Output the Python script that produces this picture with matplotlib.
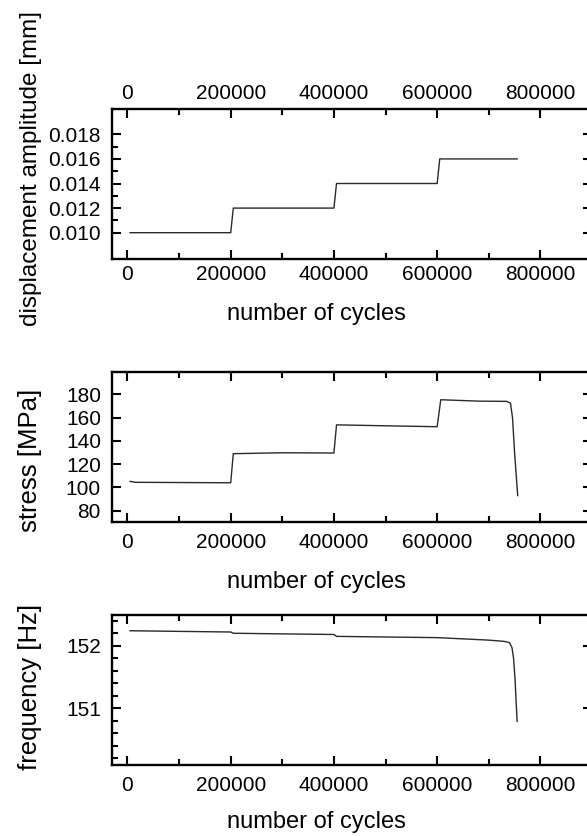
import matplotlib.pyplot as plt
from matplotlib.ticker import MultipleLocator, FixedLocator

plt.rcParams['font.family'] = ['Liberation Sans', 'DejaVu Sans']

# displacement amplitude [mm]
disp_cycles = [5000, 200000, 205000, 400000, 405000, 600000, 605000, 755000]
disp_amp = [0.010, 0.010, 0.012, 0.012, 0.014, 0.014, 0.016, 0.016]

# stress [MPa]
stress_cycles = [5000, 15000, 100000, 200000, 205000, 300000, 400000, 405000,
                 500000, 600000, 607000, 680000, 735000, 742000, 746000, 750000, 756000]
stress_vals = [105.2, 104.4, 104.2, 104.0, 129.0, 129.8, 129.6, 153.8,
               153.0, 152.2, 175.4, 174.2, 174.0, 172.5, 160.0, 130.0, 93.0]

# frequency [Hz]
freq_cycles = [5000, 100000, 200000, 205000, 300000, 400000, 405000, 500000,
               600000, 650000, 700000, 730000, 740000, 745000, 748000, 751000, 753000, 755000]
freq_vals = [152.24, 152.23, 152.22, 152.20, 152.19, 152.18, 152.15, 152.14,
             152.13, 152.11, 152.09, 152.07, 152.05, 151.97, 151.80, 151.45, 151.10, 150.79]

xticks = [0, 200000, 400000, 600000, 800000]

fig = plt.figure(figsize=(5.87, 8.36), dpi=100)
left, width = 112 / 587, 480 / 587
ax1 = fig.add_axes([left, 1 - 259 / 836, width, 150 / 836])
ax2 = fig.add_axes([left, 1 - 522.3 / 836, width, 150 / 836])
ax3 = fig.add_axes([left, 1 - 764.5 / 836, width, 150 / 836])

for ax in (ax1, ax2, ax3):
    ax.set_xlim(-30000, 900000)
    ax.set_xticks(xticks)
    ax.set_xticklabels([str(t) for t in xticks])
    ax.xaxis.set_minor_locator(MultipleLocator(100000))
    ax.tick_params(which='both', direction='in', top=True, right=True, width=1.5)
    ax.tick_params(which='major', length=6.5)
    ax.tick_params(which='minor', length=4)
    ax.tick_params(axis='x', labelsize=15, pad=8)
    ax.tick_params(axis='y', labelsize=15, pad=8)
    ax.tick_params(axis='y', which='minor', right=False)
    for s in ax.spines.values():
        s.set_linewidth(1.7)
    ax.set_xlabel('number of cycles', fontsize=17, va='top')

ax1.plot(disp_cycles, disp_amp, color='#2a2a2a', lw=1.0)
ax1.set_ylim(0.00786, 0.02006)
ax1.set_yticks([0.010, 0.012, 0.014, 0.016, 0.018])
ax1.set_yticklabels(['0.010', '0.012', '0.014', '0.016', '0.018'])
ax1.yaxis.set_minor_locator(FixedLocator([0.011, 0.013, 0.015, 0.017]))
ax1.tick_params(axis='x', labeltop=True)
ax1.tick_params(axis='x', which='major', labelbottom=True, pad=4)
ax1.set_ylabel('displacement amplitude [mm]', fontsize=17.5)
ax1.yaxis.set_label_coords(-0.146, 0.60)
ax1.xaxis.set_label_coords(0.425, -0.293)

ax2.plot(stress_cycles, stress_vals, color='#2a2a2a', lw=1.0)
ax2.set_ylim(70, 199)
ax2.set_yticks([80, 100, 120, 140, 160, 180])
ax2.set_ylabel('stress [MPa]', fontsize=18.5)
ax2.yaxis.set_label_coords(-0.146, 0.41)
ax2.xaxis.set_label_coords(0.425, -0.325)

ax3.plot(freq_cycles, freq_vals, color='#2a2a2a', lw=1.0)
ax3.set_ylim(150.1, 152.5)
ax3.set_yticks([151, 152])
ax3.yaxis.set_minor_locator(MultipleLocator(0.2))
ax3.set_ylabel('frequency [Hz]', fontsize=18.5)
ax3.yaxis.set_label_coords(-0.146, 0.52)
ax3.xaxis.set_label_coords(0.425, -0.311)

fig.savefig('out.png', dpi=100)
